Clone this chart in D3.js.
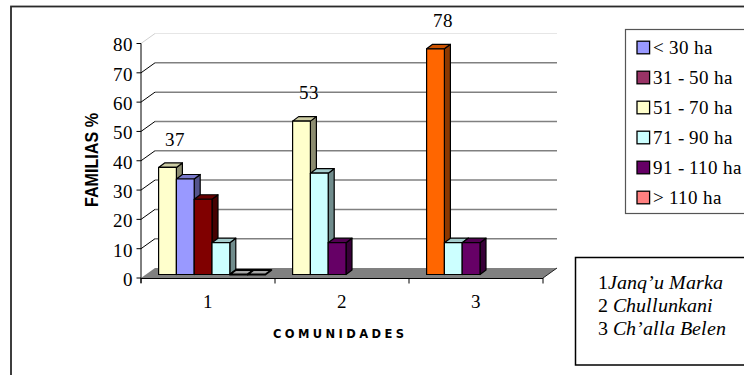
<!DOCTYPE html>
<html><head><meta charset="utf-8">
<script src="https://cdn.jsdelivr.net/npm/d3@7"></script>
<style>
@font-face { font-family: "ChartSerif"; font-style: normal; font-weight: 400; font-display: swap;
  src: local("Liberation Serif"), local("LiberationSerif"), local("Liberation Serif Regular"), local("LiberationSerif-Regular"); }
@font-face { font-family: "ChartSerif"; font-style: italic; font-weight: 400; font-display: swap;
  src: local("Liberation Serif Italic"), local("LiberationSerif-Italic"); }
</style>
</head><body style="margin:0;background:#fff">
<svg id="chart" width="744" height="375" style="display:block"></svg>
<script>
// Communities on the category axis and the percentage ticks
const categories = ["1", "2", "3"];
const yTicks = [0, 10, 20, 30, 40, 50, 60, 70, 80];

// Legend: land-size classes
const legendLabels = ["< 30 ha", "31 - 50 ha", "51 - 70 ha", "71 - 90 ha", "91 - 110 ha", "> 110 ha"];
const legendColors = ["#9999FF", "#993366", "#FFFFCC", "#CCFFFF", "#660066", "#FF8080"];

// Families (%) per community, in the order the bars are drawn
const barsCom1 = [37, 33, 26, 11, 0, 0];
const barsCom2 = [53, 35, 11];
const barsCom3 = [78, 11, 11];
const colorsCom1 = ["#FFFFCC", "#9999FF", "#800000", "#CCFFFF", "#660066", "#FF8080"];
const colorsCom2 = ["#FFFFCC", "#CCFFFF", "#660066"];
const colorsCom3 = ["#FF6600", "#CCFFFF", "#660066"];

// Community names for the key box
const communityNumbers = ["1", "2 ", "3 "];
const communityNames = ["Janq’u Marka", "Chullunkani", "Ch’alla Belen"];

const barValues = [barsCom1, barsCom2, barsCom3];
const barColors = [colorsCom1, colorsCom2, colorsCom3];

const SERIF = "ChartSerif, Times New Roman, serif";
const svg = d3.select("#chart");

// outer frame
svg.append("rect").attr("x", 11).attr("y", 6.5).attr("width", 800).attr("height", 400)
  .attr("fill", "none").attr("stroke", "#2a2a2a").attr("stroke-width", 1.8);

// 3-D geometry
const DX = 14, DY = -10;        // wall depth
const SX = 4;                   // bar plane shift
const BDX = 6, BDY = -4.5;      // bar depth

const x = d3.scaleBand().domain(categories).range([141, 543]);
const y = d3.scaleLinear().domain([0, 80]).range([278, 43.5]);
const yBar = d3.scaleLinear().domain([0, 80]).range([274.5, 43]);
const slot = d3.scaleBand().domain(d3.range(6)).range([0, x.bandwidth()]).paddingOuter(0.764).paddingInner(0);

const g = svg.append("g");

// back wall gridlines
g.selectAll("line.grid").data(yTicks.filter(d => d > 0)).join("line")
  .attr("class", "grid")
  .attr("x1", 141 + DX).attr("x2", 543 + DX)
  .attr("y1", d => y(d) + DY).attr("y2", d => y(d) + DY)
  .attr("stroke", d => d === 80 ? "#e6e6e6" : "#808080")
  .attr("stroke-width", d => d === 80 ? 1 : 1.5);

// side wall diagonals
g.selectAll("line.diag").data(yTicks.filter(d => d > 0)).join("line")
  .attr("class", "diag")
  .attr("x1", 141).attr("x2", 141 + DX)
  .attr("y1", d => y(d)).attr("y2", d => y(d) + DY)
  .attr("stroke", d => d === 80 ? "#d0d0d0" : "#000")
  .attr("stroke-width", 1);

// floor
const y0 = y(0);
g.append("path")
  .attr("d", `M141,${y0}L543,${y0}L${543 + DX},${y0 + DY}L${141 + DX},${y0 + DY}Z`)
  .attr("fill", "#808080");
g.append("line").attr("x1", 543).attr("y1", y0).attr("x2", 543 + DX).attr("y2", y0 + DY)
  .attr("stroke", "#222").attr("stroke-width", 1);

// bars
function shade(c, k) {
  const r = d3.rgb(c);
  return d3.rgb(r.r * k, r.g * k, r.b * k).toString();
}
categories.forEach((cat, ci) => {
  barValues[ci].forEach((v, i) => {
    const x0 = x(cat) + SX + slot(i);
    const w = slot.bandwidth();
    const yt = yBar(v), yb = yBar(0);
    const col = barColors[ci][i];
    const bg = g.append("g").attr("stroke", "#000").attr("stroke-width", 1.2).attr("stroke-linejoin", "round");
    if (v === 0) {
      bg.append("path")
        .attr("d", `M${x0},${yb}L${x0 + w},${yb}L${x0 + w + BDX},${yb + BDY}L${x0 + BDX},${yb + BDY}Z`)
        .attr("fill", "#a6a6a6").attr("stroke-width", 1.8);
      return;
    }
    bg.append("path")
      .attr("d", `M${x0 + w},${yt}L${x0 + w + BDX},${yt + BDY}L${x0 + w + BDX},${yb + BDY}L${x0 + w},${yb}Z`)
      .attr("fill", shade(col, 0.55));
    bg.append("path")
      .attr("d", `M${x0},${yt}L${x0 + w},${yt}L${x0 + w + BDX},${yt + BDY}L${x0 + BDX},${yt + BDY}Z`)
      .attr("fill", shade(col, 0.8));
    bg.append("rect").attr("x", x0).attr("y", yt).attr("width", w).attr("height", yb - yt)
      .attr("fill", col);
  });
});

// value labels over the first bar of each community
categories.forEach((cat, ci) => {
  const v = barValues[ci][0];
  svg.append("text")
    .attr("x", x(cat) + SX + slot(0) + slot.bandwidth() / 2 + 8)
    .attr("y", yBar(v) - 21.7)
    .attr("text-anchor", "middle")
    .attr("font-family", SERIF).attr("font-size", 19)
    .text(v);
});

// y axis
g.append("line").attr("x1", 141).attr("x2", 141).attr("y1", y(80)).attr("y2", y0 + 5)
  .attr("stroke", "#000").attr("stroke-width", 1);
g.selectAll("line.ytick").data(yTicks).join("line")
  .attr("class", "ytick")
  .attr("x1", 136.5).attr("x2", 141).attr("y1", d => y(d)).attr("y2", d => y(d))
  .attr("stroke", "#000");
svg.selectAll("text.ylab").data(yTicks).join("text")
  .attr("class", "ylab")
  .attr("x", 133).attr("y", d => y(d)).attr("dy", "0.42em")
  .attr("text-anchor", "end")
  .attr("font-family", SERIF).attr("font-size", 19)
  .text(d => d);

// x axis
g.append("line").attr("x1", 141).attr("x2", 543).attr("y1", y0 + 0.5).attr("y2", y0 + 0.5)
  .attr("stroke", "#000").attr("stroke-width", 1.2);
const xEdges = categories.map(c => x(c)).concat([x(categories[categories.length - 1]) + x.bandwidth()]);
g.selectAll("line.xtick").data(xEdges).join("line")
  .attr("class", "xtick")
  .attr("x1", d => d).attr("x2", d => d).attr("y1", y0).attr("y2", y0 + 5.5)
  .attr("stroke", "#000");
svg.selectAll("text.xlab").data(categories).join("text")
  .attr("class", "xlab")
  .attr("x", d => x(d) + x.bandwidth() / 2).attr("y", 308)
  .attr("text-anchor", "middle")
  .attr("font-family", SERIF).attr("font-size", 19)
  .text(d => d);

// axis titles
svg.append("text")
  .attr("transform", "translate(98.3,160) rotate(-90)")
  .attr("text-anchor", "middle")
  .attr("textLength", 94).attr("lengthAdjust", "spacingAndGlyphs")
  .attr("font-family", "Liberation Sans, Arial, sans-serif").attr("font-weight", "bold").attr("font-size", 18)
  .text("FAMILIAS %");
svg.append("text")
  .attr("x", 273).attr("y", 338)
  .attr("textLength", 131).attr("lengthAdjust", "spacing")
  .attr("font-family", "DejaVu Sans, sans-serif").attr("font-weight", "bold").attr("font-size", 11.5)
  .text("COMUNIDADES");

// legend
const leg = svg.append("g");
leg.append("rect").attr("x", 625.5).attr("y", 29.5).attr("width", 200).attr("height", 184)
  .attr("fill", "#fff").attr("stroke", "#555").attr("stroke-width", 1.2);
leg.selectAll("rect.sw").data(legendLabels).join("rect")
  .attr("class", "sw")
  .attr("x", 637).attr("y", (d, i) => 47.5 + 30 * i - 6.3).attr("width", 12.6).attr("height", 12.6)
  .attr("fill", (d, i) => legendColors[i]).attr("stroke", "#000").attr("stroke-width", 1.3);
leg.selectAll("text").data(legendLabels).join("text")
  .attr("x", 652.5).attr("y", (d, i) => 47.5 + 30 * i + 6.8)
  .attr("font-family", SERIF).attr("font-size", 19)
  .text(d => d);

// community key box
svg.append("rect").attr("x", 575.5).attr("y", 257.5).attr("width", 200).attr("height", 107.5)
  .attr("fill", "#fff").attr("stroke", "#000").attr("stroke-width", 1.5);
communityNames.forEach((name, i) => {
  const t = svg.append("text").attr("x", 598).attr("y", 288.5 + 23 * i)
    .attr("font-family", SERIF).attr("font-size", 19.5);
  t.append("tspan").text(communityNumbers[i]);
  t.append("tspan").attr("font-style", "italic").text(name);
});
</script>
</body></html>
